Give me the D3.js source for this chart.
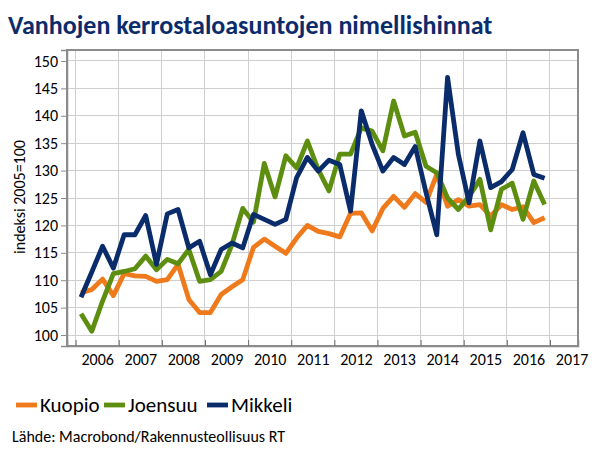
<!DOCTYPE html>
<html><head><meta charset="utf-8">
<script src="https://cdn.jsdelivr.net/npm/d3@7"></script>
<style>body{margin:0;background:#fff}svg{display:block}</style>
</head><body><svg id="c" width="600" height="457"></svg>
<script>
const title = "Vanhojen kerrostaloasuntojen nimellishinnat";
const yTitle = "indeksi 2005=100";
const source = "Lähde: Macrobond/Rakennusteollisuus RT";
const yearLabels = ["2006","2007","2008","2009","2010","2011","2012","2013","2014","2015","2016","2017"];
const yTicks = [100,105,110,115,120,125,130,135,140,145,150];
const firstYear = 2006; // quarterly series, Q1 2006 – Q4 2016
const seriesNames = ["Kuopio","Joensuu","Mikkeli"];
const kuopio = [107.7,108.3,110.2,107.2,111.2,110.8,110.7,109.8,110.1,112.9,106.5,104.1,104.1,107.4,108.8,110.1,
  116.0,117.5,116.2,114.9,117.7,120.0,118.9,118.5,117.9,122.2,122.3,119.0,123.1,125.3,123.3,125.8,
  124.2,129.3,123.5,124.7,123.5,123.8,121.7,123.8,122.9,123.4,120.5,121.4];
const joensuu = [103.9,100.7,106.2,111.2,111.6,112.1,114.4,111.9,113.8,113.0,115.6,109.8,110.1,111.6,116.5,123.1,
  120.6,131.3,125.2,132.7,130.5,135.4,130.2,126.3,133.0,133.0,137.8,137.2,133.6,142.7,136.3,137.0,
  130.8,129.6,125.0,122.9,125.3,128.4,119.2,126.6,127.7,121.1,128.1,123.8];
const mikkeli = [106.9,111.5,116.2,112.2,118.3,118.3,121.8,112.9,122.1,122.9,115.9,117.1,111.0,115.6,116.8,115.9,
  122.0,121.1,120.2,121.1,128.7,132.4,129.9,131.9,131.1,122.6,140.9,134.8,129.9,132.4,131.1,134.4,
  126.0,118.3,147.0,133.0,124.1,135.4,126.9,128.0,130.2,136.9,129.3,128.6];
const colors = ["#EF7A1C","#5D8E10","#0B2C6B"];

const svg = d3.select("#c");
const L=67, R=578, T=50, B=346;
const x = d3.scaleLinear().domain([2005.8, 2017.65]).range([L, R]);
const y = d3.scaleLinear().domain([98, 152]).range([B, T]);
const font = "Calibri, Carlito, Lato, sans-serif";

svg.append("text").attr("x",8).attr("y",34).text(title)
  .attr("font-family",font).attr("font-weight","bold").attr("font-size",26).attr("fill","#0B2C6B");

// grid
const yearVals = yearLabels.map(Number);
svg.append("g").selectAll("line").data(yTicks).join("line")
  .attr("x1",L).attr("x2",R).attr("y1",d=>y(d)).attr("y2",d=>y(d))
  .attr("stroke","#cfcfcf").attr("stroke-width",1).attr("shape-rendering","crispEdges");
svg.append("g").selectAll("line").data(yearVals).join("line")
  .attr("x1",d=>x(d)).attr("x2",d=>x(d)).attr("y1",T).attr("y2",B)
  .attr("stroke","#cfcfcf").attr("stroke-width",1).attr("shape-rendering","crispEdges");

// frame
svg.append("rect").attr("x",L).attr("y",T).attr("width",R-L).attr("height",B-T)
  .attr("fill","none").attr("stroke","#8c8c8c").attr("stroke-width",1.5).attr("shape-rendering","crispEdges");

// y axis
const ya = svg.append("g").attr("transform",`translate(${L},0)`)
  .call(d3.axisLeft(y).tickValues(yTicks).tickSize(6).tickPadding(3));
ya.select(".domain").attr("stroke","#8c8c8c").attr("stroke-width",1.5);
ya.selectAll(".tick line").attr("stroke","#8c8c8c");
ya.selectAll("text").attr("font-family",font).attr("font-size",16).attr("fill","#000");

// x axis ticks (inside) and labels at mid-year
const xa = svg.append("g").attr("transform",`translate(0,${B})`)
  .call(d3.axisBottom(x).tickValues(yearVals).tickSize(-6).tickFormat(""));
xa.select(".domain").attr("stroke","#8c8c8c").attr("stroke-width",1.5);
xa.selectAll(".tick line").attr("stroke","#6e6e6e");
const xl = svg.append("g").attr("transform",`translate(0,${B})`)
  .call(d3.axisBottom(x).tickValues(yearVals.map(v=>v+0.5)).tickSize(0).tickPadding(8)
    .tickFormat((d,i)=>yearLabels[i]));
xl.select(".domain").remove();
xl.selectAll("text").attr("font-family",font).attr("font-size",16).attr("fill","#000");

svg.append("text").attr("transform","translate(25,197) rotate(-90)").attr("text-anchor","middle")
  .text(yTitle).attr("font-family",font).attr("font-size",16).attr("fill","#000");

// series
const allSeries = [kuopio, joensuu, mikkeli];
const line = d3.line().x((d,i)=>x(firstYear + (i+0.5)/4)).y(d=>y(d));
allSeries.forEach((s,k)=>{
  svg.append("path").datum(s).attr("d",line).attr("fill","none")
    .attr("stroke",colors[k]).attr("stroke-width",4.8).attr("stroke-linejoin","round").attr("stroke-linecap","butt");
});

// legend
const legX = [16, 104, 207];
const lg = svg.append("g");
seriesNames.forEach((n,k)=>{
  lg.append("line").attr("x1",legX[k]).attr("x2",legX[k]+21).attr("y1",405).attr("y2",405)
    .attr("stroke",colors[k]).attr("stroke-width",4.8);
  lg.append("text").attr("x",legX[k]+24).attr("y",412).text(n)
    .attr("font-family",font).attr("font-size",21).attr("fill","#000");
});

svg.append("text").attr("x",12).attr("y",442).text(source)
  .attr("font-family",font).attr("font-size",16).attr("fill","#000");
</script></body></html>
